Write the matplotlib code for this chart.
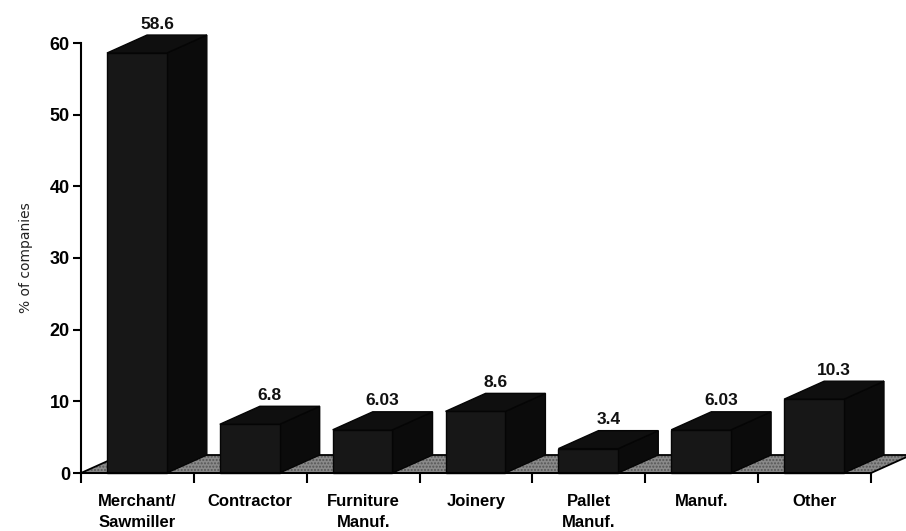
import matplotlib
matplotlib.use("Agg")
from matplotlib import pyplot as plt
from matplotlib.patches import Polygon
import numpy as np

categories = ["Merchant/\nSawmiller", "Contractor", "Furniture\nManuf.", "Joinery",
              "Pallet\nManuf.", "Manuf.", "Other"]
values = [58.6, 6.8, 6.03, 8.6, 3.4, 6.03, 10.3]
value_labels = ["58.6", "6.8", "6.03", "8.6", "3.4", "6.03", "10.3"]
yticks = [0, 10, 20, 30, 40, 50, 60]

plt.rcParams['font.family'] = ['Liberation Sans', 'DejaVu Sans']

fig = plt.figure(figsize=(9.06, 5.31), dpi=100)
ax = fig.add_axes([81/906, 58/531, 790/906, 430/531])
ax.set_xlim(0, len(categories))
ax.set_ylim(0, 60)

# depth of the fake 3d look, in data units (about 40 px right, 18 px up)
dx = 40 / 112.7
dy = 18 / 7.17
front_off, front_w = 0.23, 0.53

# floor
n = len(categories)
floor = [(0, 0), (n, 0), (n + dx, dy), (dx, dy)]
ax.add_patch(Polygon(floor, closed=True, facecolor='#8a8a8a', edgecolor='#555555',
                     hatch='.....', lw=0, zorder=1, clip_on=False))
ax.add_patch(Polygon(floor, closed=True, facecolor='none', edgecolor='black',
                     lw=1.3, zorder=2, clip_on=False))

for i, v in enumerate(values):
    x0 = i + front_off
    x1 = x0 + front_w
    front = [(x0, 0), (x1, 0), (x1, v), (x0, v)]
    side = [(x1, 0), (x1 + dx, dy), (x1 + dx, v + dy), (x1, v)]
    top = [(x0, v), (x1, v), (x1 + dx, v + dy), (x0 + dx, v + dy)]
    ax.add_patch(Polygon(side, closed=True, facecolor='#0b0b0b', edgecolor='#050505',
                         lw=1, zorder=3, clip_on=False))
    ax.add_patch(Polygon(front, closed=True, facecolor='#171717', edgecolor='#050505',
                         lw=1, zorder=4, clip_on=False))
    ax.add_patch(Polygon(top, closed=True, facecolor='#0f0f0f', edgecolor='#050505',
                         lw=1, zorder=4, clip_on=False))
    ax.annotate(value_labels[i], (x0 + front_w / 2 + dx / 2, v + dy),
                xytext=(0, 2.5), textcoords='offset points', ha='center', va='bottom',
                fontsize=12.5, fontweight='bold', color='#111111', annotation_clip=False)

for s in ['top', 'right']:
    ax.spines[s].set_visible(False)
ax.spines['left'].set_linewidth(1.5)
ax.spines['bottom'].set_linewidth(1.5)
ax.spines['bottom'].set_zorder(5)

ax.set_yticks(yticks)
ax.set_yticklabels([str(t) for t in yticks], fontsize=13, fontweight='bold')
ax.tick_params(axis='y', direction='out', length=6, width=1.5, pad=2)

ax.set_xticks(np.arange(n) + 0.5)
ax.set_xticklabels(categories, fontsize=12, fontweight='bold', linespacing=1.55)
ax.set_xticks(np.arange(n + 1), minor=True)
ax.tick_params(axis='x', which='major', length=0, pad=15)
ax.tick_params(axis='x', which='minor', direction='out', length=7, width=1.5)

ax.set_ylabel("% of companies", fontsize=10,
              family=['Liberation Sans Narrow', 'DejaVu Sans'], color='#222222')
ax.yaxis.set_label_coords(-0.061, 0.5)

fig.savefig("out.png", dpi=100)
